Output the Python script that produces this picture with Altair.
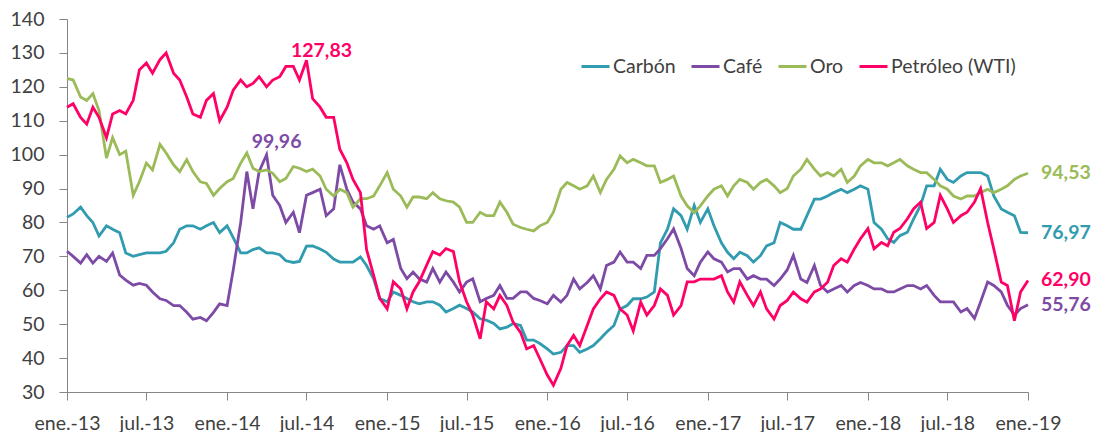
import altair as alt
import pandas as pd

series_names = ["Carbón", "Café", "Oro", "Petróleo (WTI)"]
series_colors = ["#319baf", "#7d4ba5", "#9bbb59", "#ff0066"]

# semi-monthly observation dates (1st and 15th of each month)
dates = pd.date_range("2013-01-01", "2019-01-01", freq="SMS").strftime("%Y-%m-%d").tolist()

carbon = [81.5, 82.5, 84.5, 82, 80, 76, 79, 78, 77, 71, 70, 70.5, 71, 71, 71, 71.5, 74, 78, 79, 79, 78, 79, 80, 77, 79, 75.5, 71, 71, 72, 72.5, 71, 71, 70.5, 68.7, 68.2, 68.5, 73,
          73.1, 72.2, 71.2, 69.2, 68.3, 68.3, 68.3, 69.8, 67.3, 63.4, 57.6, 56.6, 59.5, 58.5, 57.6, 56.6, 56, 56.6, 56.6, 55.6, 53.6, 54.6, 55.6, 54.6, 53.6, 51.6, 51.2, 50.2, 48.6, 49.1, 50.2, 49.6, 45.3, 45.3, 44.3, 42.7,
          41.2, 41.7, 43.7, 43.7, 41.7, 42.7, 43.7, 45.7, 47.6, 49.6, 54.5, 55.5, 57.5, 57.5, 58, 59.5, 74, 78, 84, 82, 78, 85, 80, 84, 79, 74, 71.2, 69.3, 71.2, 70.2, 68.3, 70.2, 73.1, 74, 80, 79,
          78, 78, 82, 86.9, 86.9, 87.8, 88.8, 89.8, 88.8, 89.8, 90.8, 89.8, 80, 78, 75.2, 74.1, 76.1, 77.1, 81, 85, 90.8, 90.8, 95.7, 92.7, 91.8, 93.7, 94.7, 94.7, 94.7, 93.7, 87.8, 84, 83, 82, 77.1, 76.97]

cafe = [71.5, 70, 68, 70.5, 68, 70, 68.5, 71, 64.5, 63, 61.5, 62, 61.5, 59.5, 57.5, 57, 55.5, 55.5, 53.5, 51.5, 52, 51, 53.5, 56, 55.5, 66, 80, 95, 84, 95, 99.96, 88, 85, 80, 83, 77, 88,
        88.8, 89.8, 82, 84, 97, 89.8, 86, 84, 79, 78, 79, 74, 75, 66.4, 63.4, 65.4, 63.4, 62.4, 66.4, 62.4, 65.4, 62.4, 59.5, 62.4, 63.4, 56.6, 57.6, 58.5, 61.4, 57.6, 57.6, 59.5, 59.5, 57.6, 57, 56,
        58.5, 56.5, 58.5, 63.3, 60.4, 62.3, 64.3, 60.4, 67.3, 68.3, 71.3, 68.3, 68.3, 66.4, 70.3, 70.3, 72.3, 75.2, 78.1, 72.3, 66.4, 64.3, 68.3, 71.3, 69.3, 68.3, 65.4, 66.4, 66.4, 63.3, 64.3, 63.3, 63.3, 61.4, 63.3, 66,
        70.3, 63.3, 62.3, 67.3, 61.4, 59.5, 60.4, 61.4, 59.5, 61.4, 62.3, 61.4, 60.4, 60.4, 59.5, 59.5, 60.4, 61.4, 61.4, 60.4, 61.4, 58.5, 56.6, 56.6, 56.6, 53.6, 54.6, 51.7, 56.6, 62.4, 61.4, 59.5, 55.6, 52.7, 54.6, 55.76]

oro = [122.5, 122, 117, 116, 118, 113, 99, 105, 100, 101, 88, 92, 97.5, 95.5, 103, 100.5, 97, 95, 98.5, 95, 92, 91.5, 88, 90, 92, 93, 97.5, 100.5, 96, 95, 95.5, 94.5, 92, 93, 96.5, 96, 95,
       95.7, 93.7, 89.8, 87.8, 89.8, 88.8, 84.5, 87, 87, 87.8, 90.8, 94.7, 89.8, 87.8, 84.5, 87.5, 87.5, 87, 88.8, 87, 86.4, 86, 84.5, 80, 80, 83, 82, 82, 86, 83, 79.5, 78.5, 78, 77.5, 79, 80,
       83, 89.8, 91.8, 90.8, 89.8, 90.8, 93.7, 88.8, 92.7, 95.7, 99.6, 97.6, 98.6, 97.6, 96.7, 96.7, 91.8, 92.7, 93.7, 87.8, 84.9, 82.9, 84.9, 87.8, 89.8, 90.8, 87.8, 90.8, 92.7, 91.8, 89.8, 91.8, 92.7, 90.8, 88.8, 90,
       93.7, 95.7, 98.6, 95.7, 93.7, 94.7, 93.7, 95.7, 91.8, 93.7, 96.7, 98.6, 97.6, 97.6, 96.7, 97.6, 98.6, 96.7, 95.7, 94.7, 94.7, 92.7, 90.8, 89.8, 87.8, 86.9, 87.8, 87.8, 88.8, 89.8, 88.8, 89.8, 90.8, 92.7, 93.7, 94.53]

petroleo = [114, 115, 111, 109, 114, 111, 105, 112, 113, 112, 116, 125, 127, 124, 128, 130, 124, 122, 117, 112, 111, 116, 118, 110, 114, 119, 122, 120, 121, 123, 120, 122, 123, 126, 126, 122, 127.83,
            116.5, 114, 111, 111, 101.6, 97.6, 92.7, 88.8, 72, 64.5, 57.6, 54.5, 62.5, 60.4, 54.5, 59.5, 62.5, 67.4, 71.4, 70.4, 72.3, 71.4, 62.5, 56.6, 52.7, 45.7, 56.6, 54.5, 58.5, 55.5, 50.6, 47.6, 42.7, 43.7, 39.8, 35,
            32, 37, 43.7, 46.7, 43.7, 49.6, 54.5, 57.5, 59.5, 58.5, 54.5, 52.7, 48, 56.5, 52.7, 55.5, 60.4, 58.5, 52.7, 55.5, 62.5, 62.5, 63.3, 63.3, 63.3, 64.3, 59.5, 56.5, 62.5, 58.5, 55.5, 59.5, 54.5, 51.5, 55.5, 57,
            59.5, 57.5, 56.5, 59.5, 60.4, 62.4, 67.3, 69.3, 68.3, 72.2, 75.2, 78.2, 72.2, 74.1, 73.1, 77.1, 78.2, 81.1, 84, 86, 78.2, 80, 88, 84, 80, 82, 83, 86, 90, 80, 72.2, 62.4, 61.4, 51, 59.5, 62.9]

# y-axis tick values
y_ticks = [30, 40, 50, 60, 70, 80, 90, 100, 110, 120, 130, 140]

# end-of-series labels
end_dates = ["2019-01-01"] * 4
end_values = [94.53, 76.97, 62.90, 55.76]
end_texts = ["94,53", "76,97", "62,90", "55,76"]
end_colors = ["#9bbb59", "#319baf", "#ff0066", "#7d4ba5"]

# peak labels
peak_dates = ["2014-07-01", "2014-04-01"]
peak_values = [127.83, 99.96]
peak_texts = ["127,83", "99,96"]
peak_colors = ["#ff0066", "#7d4ba5"]

rows = []
for name, vals in zip(series_names, [carbon, cafe, oro, petroleo]):
    for d, v in zip(dates, vals):
        rows.append({"serie": name, "fecha": d, "valor": v})
df = pd.DataFrame(rows)

df_end = pd.DataFrame({"fecha": end_dates, "valor": end_values, "texto": end_texts, "color": end_colors})
df_peak1 = pd.DataFrame({"fecha": peak_dates[:1], "valor": peak_values[:1], "texto": peak_texts[:1], "color": peak_colors[:1]})
df_peak2 = pd.DataFrame({"fecha": peak_dates[1:], "valor": peak_values[1:], "texto": peak_texts[1:], "color": peak_colors[1:]})

x_ticks = [alt.DateTime(year=y, month=m, date=1, utc=True)
           for y in range(2013, 2020) for m in (1, 7) if not (y == 2019 and m == 7)]

x_enc = alt.X(
    "fecha:T",
    scale=alt.Scale(type="utc",
                    domain=[alt.DateTime(year=2013, month=1, date=1, utc=True),
                            alt.DateTime(year=2019, month=1, date=1, utc=True)]),
    axis=alt.Axis(values=x_ticks, title=None, grid=False, tickSize=8, labelPadding=14,
                  labelOverlap=False, labelFlush=False,
                  labelExpr="(utcFormat(datum.value, '%m') == '01' ? 'ene.-' : 'jul.-') + utcFormat(datum.value, '%y')"),
)
y_enc = alt.Y(
    "valor:Q",
    scale=alt.Scale(domain=[30, 140], nice=False, zero=False),
    axis=alt.Axis(values=y_ticks, title=None, grid=False, tickSize=8, labelPadding=15,
                  labelOverlap=False, labelFlush=False, tickCount=12),
)

lines = alt.Chart(df).mark_line(strokeWidth=2.8).encode(
    x=x_enc,
    y=y_enc,
    color=alt.Color(
        "serie:N",
        sort=series_names,
        scale=alt.Scale(domain=series_names, range=series_colors),
        legend=alt.Legend(orient="none", legendX=513, legendY=32, direction="horizontal", columns=4,
                          title=None, symbolType="stroke", symbolSize=784, symbolStrokeWidth=3,
                          labelOffset=2, columnPadding=9, labelFont="Lato", labelFontSize=19.5,
                          labelColor="#404040", padding=0),
    ),
    order=alt.Order("fecha:T"),
)

text_style = dict(font="Lato", fontSize=19.5, fontWeight="bold")

end_lbl = alt.Chart(df_end).mark_text(align="left", baseline="middle", dx=13, **text_style).encode(
    x=x_enc, y=y_enc, text="texto:N", color=alt.Color("color:N", scale=None))
peak_lbl1 = alt.Chart(df_peak1).mark_text(align="center", baseline="alphabetic", dx=15, dy=-3, **text_style).encode(
    x=x_enc, y=y_enc, text="texto:N", color=alt.Color("color:N", scale=None))
peak_lbl2 = alt.Chart(df_peak2).mark_text(align="center", baseline="alphabetic", dx=10, dy=-7, **text_style).encode(
    x=x_enc, y=y_enc, text="texto:N", color=alt.Color("color:N", scale=None))

chart = alt.layer(lines, end_lbl, peak_lbl1, peak_lbl2).properties(
    width=961, height=373,
    autosize=alt.AutoSizeParams(type="none"),
    padding={"left": 59, "top": 11, "right": 65, "bottom": 40},
).configure_axis(
    labelFont="Lato", labelFontSize=19.5, labelColor="#404040",
    domainColor="#868686", tickColor="#868686", domainWidth=1, tickWidth=1,
).configure_axisY(labelOverlap=False).configure_view(stroke=None)

chart.save("out.html", embed_options={"renderer": "svg", "actions": False})
